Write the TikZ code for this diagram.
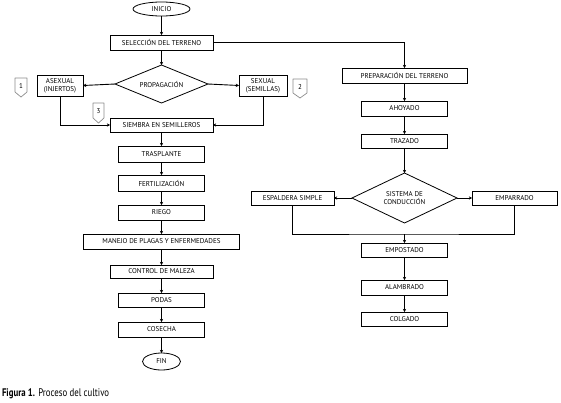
\documentclass[tikz,border=0pt]{standalone}
\usepackage{fontspec}
\setmainfont{PT Sans}
\newfontfamily\capfont[FakeStretch=0.8]{PT Sans}
\usetikzlibrary{shapes.geometric,arrows.meta}
\begin{document}
\begin{tikzpicture}[x=1pt,y=-1pt,
  every node/.style={font=\fontsize{7}{7.8}\selectfont, inner sep=0pt, outer sep=0pt},
  box/.style={draw, line width=0.9pt, minimum height=15pt, align=center},
  oval/.style={draw, ellipse, line width=0.8pt},
  dia/.style={draw, diamond, line width=0.8pt, align=center},
  arr/.style={-{Stealth[length=3.2pt,width=3.4pt]}, line width=0.9pt},
  ln/.style={line width=0.9pt},
  badge/.style={draw=black!45, line width=0.7pt, line join=round}]
\useasboundingbox (0,0) rectangle (561,402);
% left column
\node[oval, minimum width=57pt, minimum height=14pt] (ini) at (161.5,9) {INICIO};
\node[box, minimum width=103pt] (sel) at (161.5,42.5) {SELECCIÓN DEL TERRENO};
\node[dia, minimum width=93pt, minimum height=38pt, aspect=2.4] (prop) at (161.5,84) {PROPAGACIÓN};
\node[box, minimum width=46pt, minimum height=21pt] (asex) at (60,85.5) {ASEXUAL\\(INJERTOS)};
\node[box, minimum width=48pt, minimum height=21pt] (sex) at (263,85.5) {SEXUAL\\(SEMILLAS)};
\node[box, minimum width=103pt, minimum height=14pt] (siem) at (161.5,125) {SIEMBRA EN SEMILLEROS};
\node[box, minimum width=86pt, minimum height=16pt] (tras) at (161.5,154) {TRASPLANTE};
\node[box, minimum width=86pt, minimum height=16pt] (fert) at (161.5,183) {FERTILIZACIÓN};
\node[box, minimum width=86pt, minimum height=15pt] (rieg) at (161.5,212.5) {RIEGO};
\node[box, minimum width=156pt, minimum height=15pt] (man) at (161.5,241.5) {MANEJO DE PLAGAS Y ENFERMEDADES};
\node[box, minimum width=103pt, minimum height=13pt] (ctrl) at (161.5,271.5) {CONTROL DE MALEZA};
\node[box, minimum width=86pt, minimum height=14pt] (pod) at (161.5,300) {PODAS};
\node[box, minimum width=86pt, minimum height=15pt] (cos) at (161.5,329.5) {COSECHA};
\node[oval, minimum width=38pt, minimum height=17pt] (fin) at (161.5,361.5) {FIN};
% right column
\node[box, minimum width=125pt] (prep) at (404.5,75.5) {PREPARACIÓN DEL TERRENO};
\node[box, minimum width=86pt] (aho) at (404.5,108.5) {AHOYADO};
\node[box, minimum width=86pt, minimum height=14pt] (tra) at (404.5,141) {TRAZADO};
\node[dia, minimum width=105pt, minimum height=50pt, aspect=2.1] (sis) at (404.5,198) {SISTEMA DE\\CONDUCCIÓN};
\node[box, minimum width=83pt, minimum height=14pt] (esp) at (292.5,198) {ESPALDERA SIMPLE};
\node[box, minimum width=85pt, minimum height=14pt] (emp) at (514.5,198) {EMPARRADO};
\node[box, minimum width=86pt, minimum height=14pt] (empo) at (404.5,250) {EMPOSTADO};
\node[box, minimum width=86pt, minimum height=15pt] (ala) at (404.5,287.5) {ALAMBRADO};
\node[box, minimum width=86pt, minimum height=14pt] (col) at (404.5,319) {COLGADO};
\coordinate (mrg) at (404.5,234);
% badges
\draw[badge] (15,78) -- (27,78) -- (27,92) -- (21,97) -- (15,92) -- cycle;
\node (b1) at (21,86) {1};
\draw[badge] (293,79) -- (307,79) -- (307,93) -- (300,98) -- (293,93) -- cycle;
\node (b2) at (300,87) {2};
\draw[badge] (93,103) -- (104,103) -- (104,118) -- (98.5,123) -- (93,118) -- cycle;
\node (b3) at (98.5,111) {3};
% connectors
\draw[arr] (ini) -- (sel);
\draw[arr] (sel.east) -| (prep.north);
\draw[arr] (sel) -- (prop);
\draw[arr] (prop.west) -- (asex.east);
\draw[arr] (prop.east) -- (sex.west);
\draw[arr] (asex.south) |- (siem.west);
\draw[arr] (sex.south) |- (siem.east);
\draw[arr] (siem) -- (tras);
\draw[arr] (tras) -- (fert);
\draw[arr] (fert) -- (rieg);
\draw[arr] (rieg) -- (man);
\draw[arr] (man) -- (ctrl);
\draw[arr] (ctrl) -- (pod);
\draw[arr] (pod) -- (cos);
\draw[arr] (cos) -- (fin);
\draw[arr] (prep) -- (aho);
\draw[arr] (aho) -- (tra);
\draw[arr] (tra) -- (sis);
\draw[arr] (sis.west) -- (esp.east);
\draw[arr] (sis.east) -- (emp.west);
\draw[ln] (esp.south) |- (mrg) -| (emp.south);
\draw[arr] (mrg) -- (empo);
\draw[arr] (empo) -- (ala);
\draw[arr] (ala) -- (col);
% caption
\node[anchor=base west, font=\capfont\fontsize{11}{12}\selectfont] (cap) at (2,396) {\textbf{Figura 1.} Proceso del cultivo};
\end{tikzpicture}
\end{document}
